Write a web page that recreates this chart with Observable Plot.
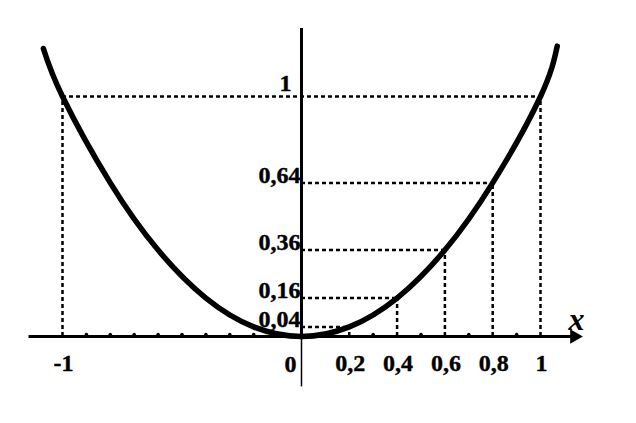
<!DOCTYPE html>
<html>
<head>
<meta charset="utf-8">
<script src="https://cdn.jsdelivr.net/npm/d3@7"></script>
<script src="https://cdn.jsdelivr.net/npm/@observablehq/plot@0.6"></script>
<style>
  html, body { margin: 0; padding: 0; background: white; }
</style>
</head>
<body>
<div id="chart"></div>
<script>
// Points read on the parabola y = x² (as drawn)
const curveX = [-1.08, -1, -0.8, -0.6, -0.4, -0.2, 0, 0.2, 0.4, 0.6, 0.8, 1, 1.07];
const curveY = [1.2, 1, 0.64, 0.36, 0.16, 0.04, 0, 0.04, 0.16, 0.36, 0.64, 1, 1.21];

// Marked points with dotted guides
const guideX = [-1, 0.2, 0.4, 0.6, 0.8, 1];
const guideY = [1, 0.04, 0.16, 0.36, 0.64, 1];

// Tick labels
const yTickValues = [1, 0.64, 0.36, 0.16, 0.04];
const yTickLabels = ["1", "0,64", "0,36", "0,16", "0,04"];
const xTickValues = [-1, 0, 0.2, 0.4, 0.6, 0.8, 1];
const xTickLabels = ["-1", "0", "0,2", "0,4", "0,6", "0,8", "1"];
const minorTicks = [-0.9, -0.8, -0.7, -0.6, -0.5, -0.4, -0.3, -0.2, -0.1, 0.1, 0.3, 0.5, 0.7, 0.9];

// Axis extents (data units)
const xAxisExtent = [-1.14, 1.167];
const yAxisExtent = [-0.21, 1.283];
const axisName = "x";

const curve = curveX.map((x, i) => ({x, y: curveY[i]}));
const guides = guideX.map((x, i) => ({x, y: guideY[i]}));
const hSegs = Array.from(d3.group(guides, d => d.y), ([y, pts]) => ({
  y,
  x1: Math.min(0, d3.min(pts, d => d.x)),
  x2: Math.max(0, d3.max(pts, d => d.x))
}));
const yLabels = yTickValues.map((v, i) => ({v, t: yTickLabels[i]}));
const xLabels = xTickValues.map((v, i) => ({v, t: xTickLabels[i]}));

const serif = "'Liberation Serif', 'Times New Roman', serif";
const dash = {strokeDasharray: "4,3", strokeWidth: 2.5, stroke: "black"};
const label = {fontSize: 24, fontWeight: "bold", fontFamily: serif, fill: "black", stroke: "black", strokeWidth: 0.4};

const chart = Plot.plot({
  width: 636,
  height: 423,
  margin: 0,
  x: {domain: [-1.2594, 1.4017], axis: null},
  y: {domain: [-0.3625, 1.4], axis: null},
  style: {background: "white"},
  marks: [
    // dotted guides
    Plot.ruleY(hSegs, {y: "y", x1: "x1", x2: "x2", ...dash}),
    Plot.ruleX(guides, {x: "x", y1: 0, y2: "y", ...dash}),
    // axes
    Plot.ruleY([0], {x1: xAxisExtent[0], x2: xAxisExtent[1], stroke: "black", strokeWidth: 3}),
    Plot.dot([xAxisExtent[1]], {
      x: d => d, y: () => 0, symbol: "triangle2", rotate: 90, r: 7, dx: -6,
      fill: "black", stroke: null
    }),
    Plot.ruleX([0], {y1: 0, y2: yAxisExtent[1], stroke: "black", strokeWidth: 3}),
    Plot.ruleX([0], {y1: yAxisExtent[0], y2: 0, stroke: "black", strokeWidth: 1.5}),
    Plot.dot(minorTicks, {x: d => d, y: () => 0, r: 1.8, dy: -2, fill: "black", stroke: null}),
    // parabola
    Plot.line(curve, {x: "x", y: "y", curve: "natural", stroke: "black", strokeWidth: 5.5, strokeLinecap: "round"}),
    // y labels
    Plot.text(yLabels.filter(d => d.v === 1), {
      x: () => 0, y: "v", text: "t", textAnchor: "end", dx: -10, dy: -13, ...label
    }),
    Plot.text(yLabels.filter(d => d.v !== 1), {
      x: () => 0, y: "v", text: "t", textAnchor: "end", dx: -1, dy: -8, ...label
    }),
    // x labels
    Plot.text(xLabels.filter(d => d.v === 0), {
      x: "v", y: () => 0, text: "t", dx: -11, dy: 28, ...label
    }),
    Plot.text(xLabels.filter(d => d.v !== 0), {
      x: "v", y: () => 0, text: "t", dx: 1, dy: 27, ...label
    }),
    // axis name
    Plot.text([axisName], {
      x: () => xAxisExtent[1], y: () => 0, text: d => d, dx: -4, dy: -17,
      fontSize: 32, fontStyle: "italic", fontWeight: "bold", fontFamily: serif, fill: "black"
    })
  ]
});
document.getElementById("chart").appendChild(chart);
</script>
</body>
</html>
